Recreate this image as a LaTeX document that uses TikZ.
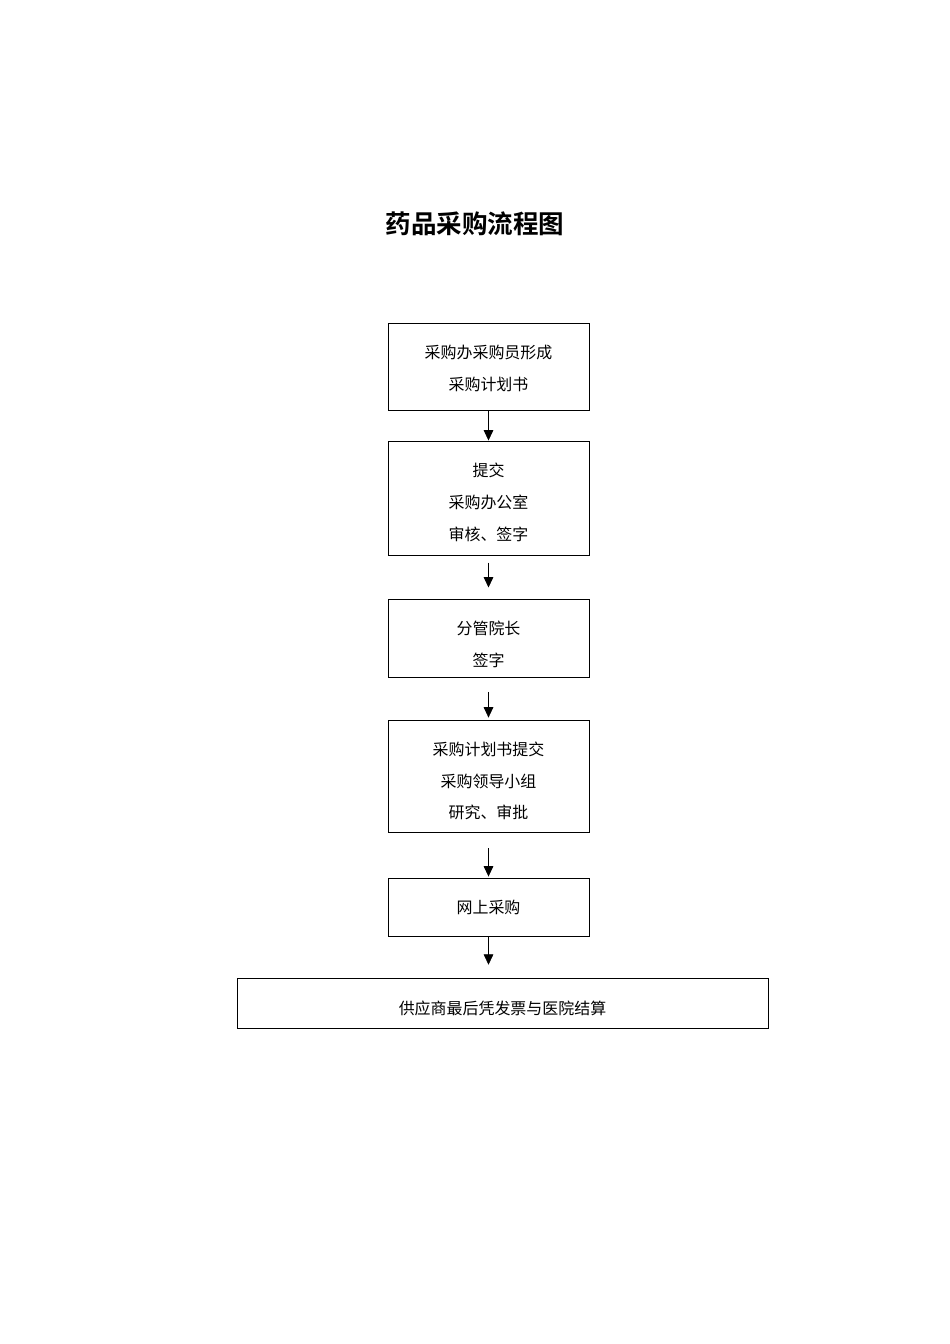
\documentclass[tikz,border=0pt]{standalone}
\usepackage{fontspec}
\newfontfamily\cjk{Noto Sans CJK SC}
\newfontfamily\cjkbold{Noto Sans CJK SC Bold}
\usetikzlibrary{arrows.meta}
\begin{document}
\begin{tikzpicture}[x=0.6266pt,y=-0.6266pt,
  box/.style={draw,line width=0.6pt,inner sep=0pt},
  txt/.style={align=center,inner sep=0pt,font=\cjk\fontsize{10pt}{20pt}\selectfont},
  arr/.style={line width=0.4pt,-{Triangle[width=6pt,length=6.5pt]}}]
\useasboundingbox (0,0) rectangle (950,1344);
\node[font=\cjkbold\fontsize{16pt}{19pt}\selectfont] (title) at (475,224) {药品采购流程图};
\node[box,minimum width=201*0.6266pt,minimum height=87*0.6266pt,
  label={[txt,yshift=-1.3pt]center:{采购办采购员形成\\采购计划书}}] (b1) at (488.5,366.5) {};
\node[box,minimum width=201*0.6266pt,minimum height=114*0.6266pt,
  label={[txt,yshift=-2.5pt]center:{提交\\采购办公室\\审核、签字}}] (b2) at (488.5,498) {};
\node[box,minimum width=201*0.6266pt,minimum height=78*0.6266pt,
  label={[txt,yshift=-3.8pt]center:{分管院长\\签字}}] (b3) at (488.5,638) {};
\node[box,minimum width=201*0.6266pt,minimum height=112*0.6266pt,
  label={[txt,yshift=-3.1pt]center:{采购计划书提交\\采购领导小组\\研究、审批}}] (b4) at (488.5,776) {};
\node[box,minimum width=201*0.6266pt,minimum height=58*0.6266pt,
  label={[txt]center:{网上采购}}] (b5) at (488.5,907) {};
\node[box,minimum width=531*0.6266pt,minimum height=50*0.6266pt,
  label={[txt,yshift=-3.1pt]center:{供应商最后凭发票与医院结算}}] (b6) at (502.5,1003) {};
\draw[arr] (b1.south) -- (b2.north);
\draw[arr,shorten <=4.4pt,shorten >=6.9pt] (b2.south) -- (b3.north);
\draw[arr,shorten <=9pt,shorten >=1.2pt] (b3.south) -- (b4.north);
\draw[arr,shorten <=10pt,shorten >=0.6pt] (b4.south) -- (b5.north);
\draw[arr,shorten >=8pt] (b5.south) -- (b5.south |- b6.north);
\end{tikzpicture}
\end{document}
